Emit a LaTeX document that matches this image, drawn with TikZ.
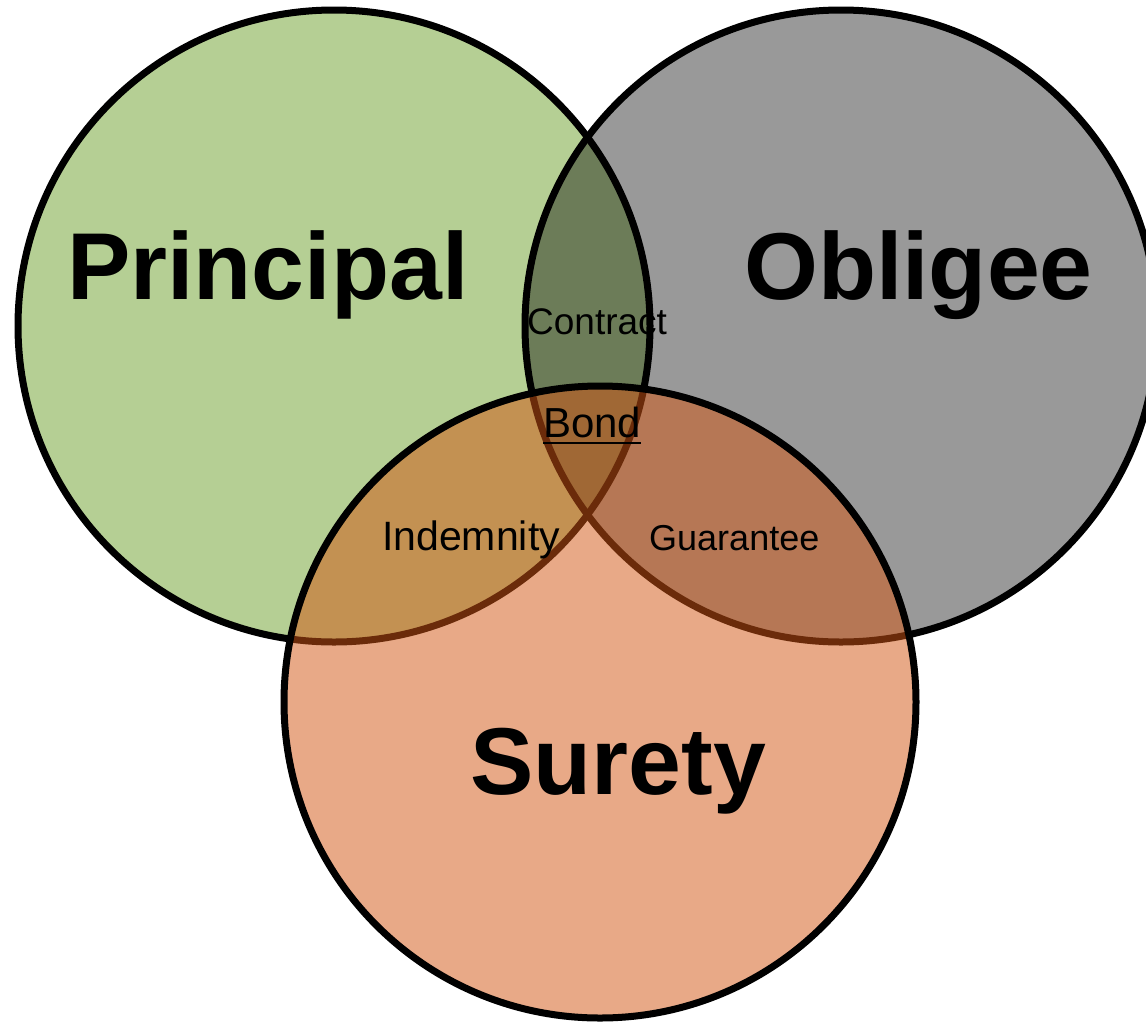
\documentclass[tikz,border=0pt]{standalone}
\usepackage{fontspec}
\setmainfont{Liberation Sans}
\usepackage{tikz}
\usetikzlibrary{positioning}

\definecolor{principalgreen}{RGB}{181,207,148}
\definecolor{suretyorange}{RGB}{210,86,20}

\tikzset{
    party/.style={line width=7pt,draw=black},
    bigname/.style={inner sep=0pt,anchor=base west,font=\bfseries\fontsize{95}{95}\selectfont},
    smallname/.style={inner sep=0pt,anchor=base west,font=\fontsize{#1}{#1}\selectfont},
}

\begin{document}
\begin{tikzpicture}[x=1pt,y=-1pt]
        \useasboundingbox (0,0) rectangle (1146,1021);

        \def\rad{316pt}

        % the three parties
        \filldraw [party,fill=principalgreen] (334,326) coordinate (principal) circle [radius=\rad];
        \filldraw [party,fill=black,fill opacity=0.4] (841,326) coordinate (obligee) circle [radius=\rad];
        \filldraw [party,fill=suretyorange,fill opacity=0.51] (600,702) coordinate (surety) circle [radius=\rad];

        \node [bigname] (principalname) at (67,299) {Principal};
        \node [bigname] (obligeename) at (744,299) {Obligee};
        \node [bigname] (suretyname) at (470,794) {Surety};

        % overlaps
        \node [smallname=37] (contract) at (527,334) {Contract};
        \node [smallname=42] (bond) at (543,437) {Bond};
        \draw [line width=2.5pt] ([yshift=-6pt]bond.base west) -- ([yshift=-6pt]bond.base east);
        \node [smallname=41] (indemnity) at (382,550) {Indemnity};
        \node [smallname=36] (guarantee) at (649,550) {Guarantee};
    \end{tikzpicture}
\end{document}
